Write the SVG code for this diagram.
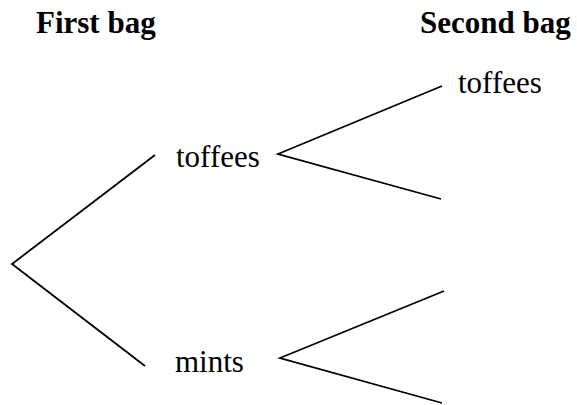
<svg xmlns="http://www.w3.org/2000/svg" width="577" height="405" viewBox="0 0 577 405">
  <style>
    .head { font-family: "Liberation Serif", "Times New Roman", serif; font-size: 31px; font-weight: bold; fill: #000; }
    .label { font-family: "Liberation Serif", "Times New Roman", serif; font-size: 31px; fill: #000; }
    .branch { stroke: #000; stroke-width: 1.8; fill: none; stroke-linecap: butt; }
  </style>
  <rect width="577" height="405" fill="#fff"/>

  <!-- column headings -->
  <text class="head" x="36" y="33">First bag</text>
  <text class="head" x="420" y="33">Second bag</text>

  <!-- tree branches -->
  <g id="connectors">
    <polyline class="branch" points="155,155 12,264 145,366"/>
    <polyline class="branch" points="442,86 278,154 441,199"/>
    <polyline class="branch" points="444,291 280,358 442,403"/>
  </g>

  <!-- outcome labels -->
  <g id="first-toffees">
    <text class="label" x="176" y="167">toffees</text>
  </g>
  <g id="first-mints">
    <text class="label" x="175" y="372">mints</text>
  </g>
  <g id="second-toffees">
    <text class="label" x="458" y="93">toffees</text>
  </g>
</svg>
